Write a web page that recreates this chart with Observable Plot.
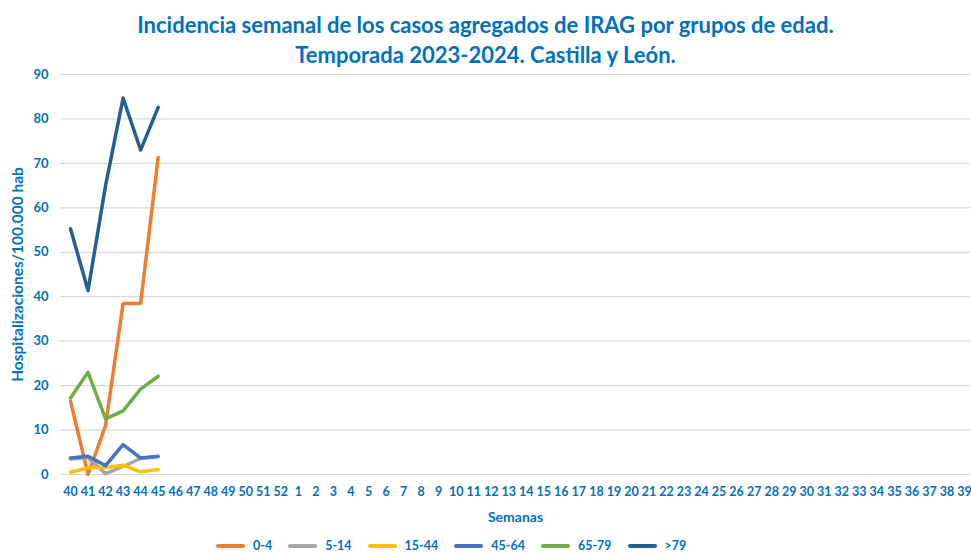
<!DOCTYPE html>
<html>
<head>
<meta charset="utf-8">
<script src="https://cdn.jsdelivr.net/npm/d3@7"></script>
<script src="https://cdn.jsdelivr.net/npm/@observablehq/plot@0.6"></script>
<style>
  html, body { margin: 0; padding: 0; background: #fff; }
  body { width: 971px; height: 554px; position: relative; overflow: hidden; font-family: Lato, "Open Sans", sans-serif; }
  #title { position: absolute; left: 0; top: 10px; width: 971px; text-align: center; color: #0070C0; font-weight: bold; font-size: 22px; line-height: 30px; }
  #chart { position: absolute; left: 0; top: 0; }
  #legend { position: absolute; left: 208px; top: 539px; display: flex; justify-content: flex-start; color: #0070C0; font-weight: bold; font-size: 12.5px; line-height: 14px; }
  .item { display: flex; align-items: center; margin: 0 8px; }
  .swatch { width: 29px; height: 4px; border-radius: 2px; margin-right: 8px; }
</style>
</head>
<body>
<div id="title">Incidencia semanal de los casos agregados de IRAG por grupos de edad.<br>Temporada 2023-2024. Castilla y León.</div>
<div id="chart"></div>
<div id="legend"></div>
<script>
const weeks = [40,41,42,43,44,45,46,47,48,49,50,51,52,1,2,3,4,5,6,7,8,9,10,11,12,13,14,15,16,17,18,19,20,21,22,23,24,25,26,27,28,29,30,31,32,33,34,35,36,37,38,39];
const seriesNames = ["0-4", "5-14", "15-44", "45-64", "65-79", ">79"];
const seriesColors = ["#ED7D31", "#A5A5A5", "#FFC000", "#4472C4", "#70AD47", "#255E91"];
const v04   = [16.5, 0.0, 11.0, 38.5, 38.5, 71.3];
const v514  = [3.5, 3.8, 0.2, 1.8, 3.6, 4.0];
const v1544 = [0.5, 1.5, 1.6, 2.1, 0.6, 1.1];
const v4564 = [3.7, 4.1, 2.0, 6.7, 3.7, 4.1];
const v6579 = [17.2, 23.0, 12.5, 14.3, 19.2, 22.1];
const v79   = [55.3, 41.4, 65.0, 84.7, 73.0, 82.6];
const yTicks = [0,10,20,30,40,50,60,70,80,90];

const allValues = [v04, v514, v1544, v4564, v6579, v79];
const data = [];
seriesNames.forEach((name, si) => {
  allValues[si].forEach((val, i) => {
    data.push({serie: name, week: String(weeks[i]), value: val});
  });
});

const blue = "#0070C0";
const chart = Plot.plot({
  width: 971,
  height: 536,
  marginTop: 74,
  marginBottom: 62,
  marginLeft: 60,
  marginRight: 1,
  style: { fontFamily: "Lato, 'Open Sans', sans-serif", fontWeight: "bold", color: blue, background: "transparent", overflow: "visible" },
  x: { type: "point", domain: weeks.map(String), range: [70, 964], padding: 0, round: false, label: null },
  y: { domain: [0, 90], label: null },
  color: { domain: seriesNames, range: seriesColors },
  marks: [
    Plot.gridY(yTicks, { stroke: "#D9D9D9", strokeOpacity: 1, strokeWidth: 1.2 }),
    Plot.axisY(yTicks, { tickSize: 0, tickPadding: 12, fontSize: 13, fill: blue, fontWeight: "bold", label: null }),
    Plot.axisX({ tickSize: 0, tickPadding: 13, fontSize: 12.5, fill: blue, fontWeight: "bold", label: null }),
    Plot.text(["Hospitalizaciones/100.000 hab"], { frameAnchor: "left", textAnchor: "middle", dx: -42, rotate: -90, fontSize: 15.5, fontWeight: "bold", fill: blue }),
    Plot.text(["Semanas"], { frameAnchor: "bottom", dy: 47, fontSize: 14, fontWeight: "bold", fill: blue }),
    Plot.line(data, { x: "week", y: "value", z: "serie", stroke: "serie", strokeWidth: 3.5, strokeLinejoin: "round", strokeLinecap: "round" })
  ]
});
document.getElementById("chart").appendChild(chart);

const legend = document.getElementById("legend");
seriesNames.forEach((name, i) => {
  const item = document.createElement("div");
  item.className = "item";
  const sw = document.createElement("div");
  sw.className = "swatch";
  sw.style.background = seriesColors[i];
  const t = document.createElement("span");
  t.textContent = name;
  item.appendChild(sw);
  item.appendChild(t);
  legend.appendChild(item);
});
</script>
</body>
</html>
